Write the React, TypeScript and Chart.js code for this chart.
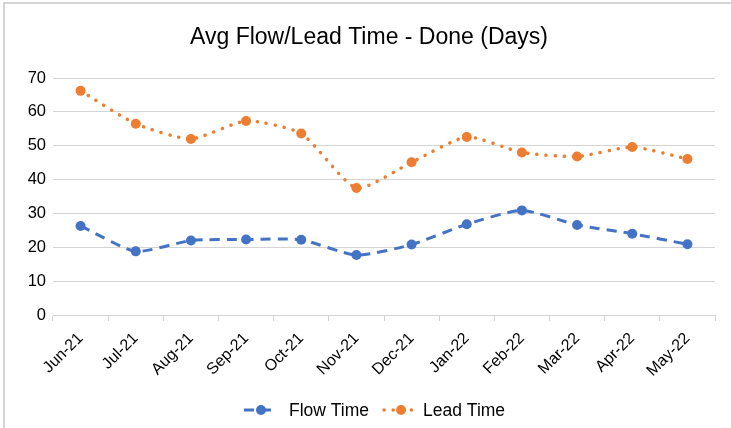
import React, { useEffect, useRef } from "react";
import { Chart, registerables } from "chart.js";

Chart.register(...registerables);

const TITLE = "Avg Flow/Lead Time - Done (Days)";
const months = ["Jun-21", "Jul-21", "Aug-21", "Sep-21", "Oct-21", "Nov-21", "Dec-21", "Jan-22", "Feb-22", "Mar-22", "Apr-22", "May-22"];
const flowTime = [26.3, 18.8, 22.0, 22.3, 22.2, 17.7, 20.8, 26.8, 30.9, 26.6, 24.0, 20.9];
const leadTime = [66.2, 56.5, 52.0, 57.3, 53.6, 37.5, 45.1, 52.6, 48.0, 46.8, 49.6, 46.1];

const FONT = "'Liberation Sans', Arial, Helvetica, sans-serif";
const BLUE = "#4472C4";
const ORANGE = "#ED7D31";

const decorPlugin = {
  id: "decor",
  beforeDraw(chart: any) {
    const ctx = chart.ctx;
    ctx.save();
    ctx.fillStyle = "#ffffff";
    ctx.fillRect(0, 0, chart.width, chart.height);
    ctx.strokeStyle = "#d4d4d4";
    ctx.lineWidth = 2;
    ctx.beginPath();
    ctx.moveTo(4, chart.height);
    ctx.lineTo(4, 3);
    ctx.lineTo(chart.width, 3);
    ctx.stroke();
    ctx.restore();
  },
  afterDraw(chart: any) {
    const ctx = chart.ctx;
    ctx.save();
    // title
    ctx.fillStyle = "#000000";
    ctx.font = `23px ${FONT}`;
    ctx.textAlign = "center";
    ctx.textBaseline = "middle";
    ctx.fillText(TITLE, 369, 38);
    // legend
    const items = chart.data.datasets.map((d: any) => ({
      text: d.label,
      color: d.borderColor,
      dash: d.borderDash,
      cap: d.borderCapStyle,
      lw: d.borderWidth,
    }));
    ctx.font = `17.5px ${FONT}`;
    const sample = 36;
    const gaps = [10, 4];
    const between = 14;
    let x = 243;
    const y = 410;
    items.forEach((it: any, i: number) => {
      ctx.strokeStyle = it.color;
      ctx.lineWidth = it.lw;
      ctx.lineCap = it.cap;
      ctx.setLineDash(it.dash);
      ctx.beginPath();
      ctx.moveTo(x + 1, y);
      ctx.lineTo(x + sample - 1, y);
      ctx.stroke();
      ctx.setLineDash([]);
      ctx.fillStyle = it.color;
      ctx.beginPath();
      ctx.arc(x + sample / 2, y, 5, 0, Math.PI * 2);
      ctx.fill();
      ctx.fillStyle = "#000000";
      ctx.textAlign = "left";
      ctx.textBaseline = "middle";
      const tx = x + sample + gaps[i % gaps.length];
      ctx.fillText(it.text, tx, y + 1);
      x = tx + ctx.measureText(it.text).width + between;
    });
    ctx.restore();
  },
};

export default function App() {
  const ref = useRef<HTMLCanvasElement | null>(null);
  useEffect(() => {
    if (!ref.current) return;
    const chart = new Chart(ref.current, {
      type: "line",
      data: {
        labels: months,
        datasets: [
          {
            label: "Flow Time",
            data: flowTime,
            borderColor: BLUE,
            backgroundColor: BLUE,
            borderWidth: 3,
            borderDash: [10, 7],
            borderCapStyle: "butt",
            pointRadius: 5,
            pointBorderWidth: 0,
            pointBackgroundColor: BLUE,
            tension: 0.2,
          },
          {
            label: "Lead Time",
            data: leadTime,
            borderColor: ORANGE,
            backgroundColor: ORANGE,
            borderWidth: 3.5,
            borderDash: [0.1, 9],
            borderCapStyle: "round",
            pointRadius: 5,
            pointBorderWidth: 0,
            pointBackgroundColor: ORANGE,
            tension: 0.2,
          },
        ],
      } as any,
      options: {
        animation: false,
        responsive: false,
        maintainAspectRatio: false,
        layout: { padding: { left: 0, right: 16, top: 78, bottom: 0 } },
        plugins: {
          legend: { display: false },
          title: { display: false },
          tooltip: { enabled: false },
        },
        scales: {
          x: {
            offset: true,
            grid: {
              offset: true,
              drawOnChartArea: false,
              drawTicks: true,
              tickLength: 6,
              color: "#d4d4d4",
            },
            border: { display: true, color: "#d4d4d4", width: 1 },
            ticks: {
              color: "#000000",
              font: { family: FONT, size: 16 },
              minRotation: 45,
              maxRotation: 45,
              padding: 8,
              autoSkip: false,
            },
            afterFit(scale: any) {
              scale.height = 113;
            },
          },
          y: {
            min: 0,
            max: 70,
            ticks: {
              stepSize: 10,
              color: "#000000",
              font: { family: FONT, size: 16.5 },
              padding: 7,
            },
            grid: { color: "#d4d4d4", drawTicks: false, lineWidth: 1 },
            border: { display: false },
            afterFit(scale: any) {
              scale.width = 53;
            },
          },
        },
      } as any,
      plugins: [decorPlugin],
    });
    return () => chart.destroy();
  }, []);
  return (
    <div style={{ position: "absolute", left: 0, top: 0, width: 731, height: 428 }}>
      <canvas ref={ref} width={731} height={428} style={{ width: 731, height: 428, display: "block" }} />
    </div>
  );
}
